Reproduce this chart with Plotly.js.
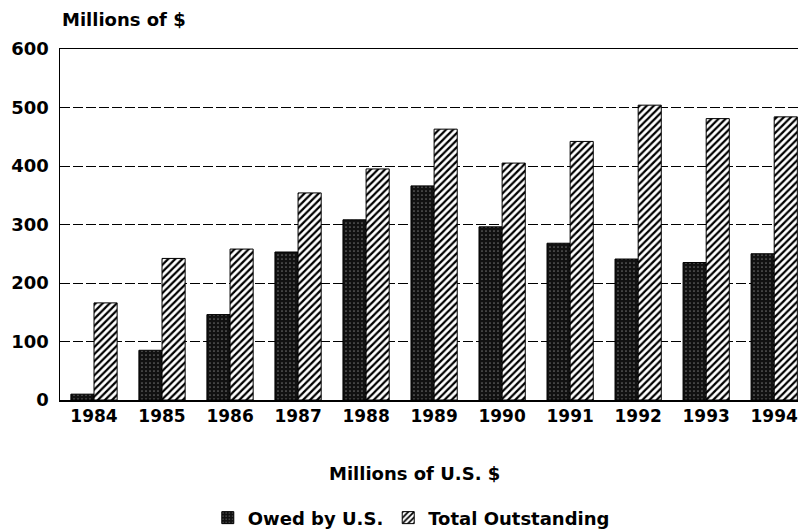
<!DOCTYPE html>
<html>
<head>
<meta charset="utf-8">
<script src="https://cdn.plot.ly/plotly-3.0.1.min.js"></script>
<style>
html,body{margin:0;padding:0;background:#fff;}
#chart{width:798px;height:529px;}
</style>
</head>
<body>
<div id="chart"></div>
<script>
const years = ["1984","1985","1986","1987","1988","1989","1990","1991","1992","1993","1994"];
const owedByUS = [10, 85, 146, 253, 308, 366, 296, 268, 241, 235, 250];
const totalOutstanding = [166, 242, 258, 354, 395, 463, 405, 442, 504, 481, 484];
const yTicks = [0, 100, 200, 300, 400, 500, 600];

const FONT = "DejaVu Sans, Liberation Sans, Arial, sans-serif";

const traces = [
  {
    type: "bar",
    name: "Owed by U.S.",
    x: years,
    y: owedByUS,
    marker: {
      color: "#111",
      line: {color: "#000", width: 1},
      pattern: {shape: ".", fgcolor: "#6a6a6a", bgcolor: "#111", size: 4, solidity: 0.15}
    }
  },
  {
    type: "bar",
    name: "Total Outstanding",
    x: years,
    y: totalOutstanding,
    marker: {
      color: "#fff",
      line: {color: "#000", width: 1},
      pattern: {shape: "/", fgcolor: "#000", bgcolor: "#fff", size: 5, solidity: 0.45}
    }
  }
];

const layout = {
  width: 798,
  height: 529,
  margin: {l: 60, r: 0, t: 49, b: 129, autoexpand: false},
  paper_bgcolor: "#fff",
  plot_bgcolor: "#fff",
  barmode: "group",
  bargap: 0.32,
  bargroupgap: 0,
  font: {family: FONT, size: 18, color: "#000", weight: "bold"},
  showlegend: true,
  legend: {
    orientation: "h",
    x: 0.476, xanchor: "center",
    y: -0.336, yanchor: "middle",
    font: {family: FONT, size: 18, color: "#000", weight: "bold"},
    itemwidth: 30,
    traceorder: "normal"
  },
  xaxis: {
    type: "category",
    range: [-0.5, 10.35],
    automargin: false,
    showline: true, linecolor: "#000", linewidth: 1.5,
    mirror: true,
    ticks: "", showgrid: false,
    ticklabelstandoff: 0,
    tickfont: {family: FONT, size: 17, color: "#000", weight: "bold"},
    fixedrange: true
  },
  yaxis: {
    range: [0, 600],
    automargin: false,
    tickvals: yTicks,
    ticktext: yTicks.map(String),
    showline: true, linecolor: "#000", linewidth: 1.5,
    showgrid: true, gridcolor: "#000", gridwidth: 1, griddash: "10px,3px",
    zeroline: false,
    ticks: "",
    ticklabelstandoff: 6,
    tickfont: {family: FONT, size: 18, color: "#000", weight: "bold"},
    fixedrange: true
  },
  annotations: [
    {
      text: "Millions of $",
      xref: "paper", yref: "paper",
      x: 0, y: 1.083, xanchor: "left", yanchor: "middle",
      showarrow: false,
      font: {family: FONT, size: 18, color: "#000", weight: "bold"}
    },
    {
      text: "Millions of U.S. $",
      xref: "paper", yref: "paper",
      x: 0.48, y: -0.208, xanchor: "center", yanchor: "middle",
      showarrow: false,
      font: {family: FONT, size: 18, color: "#000", weight: "bold"}
    }
  ]
};

Plotly.newPlot("chart", traces, layout, {displayModeBar: false, staticPlot: true});
</script>
</body>
</html>
